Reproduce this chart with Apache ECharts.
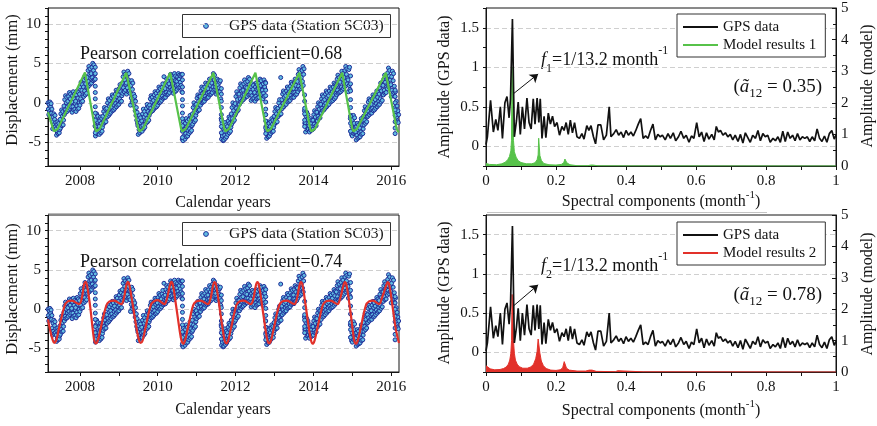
<!DOCTYPE html>
<html>
<head>
<meta charset="utf-8">
<script src="https://cdn.jsdelivr.net/npm/echarts@6/dist/echarts.min.js"></script>
<style>
  html, body { margin: 0; padding: 0; background: #fff; }
  #chart { width: 877px; height: 426px; }
</style>
</head>
<body>
<div id="chart"></div>
<script>
// ---------- GPS displacement, station SC03 (mm), one reading every 0.01 yr from 2007.18 ----------
const gpsStartYear = 2007.18;
const gpsStep = 0.01;
const gpsValues = [
  0.0,
  // 2007.2 - 2007.9
  -0.8,-1.5,-0.2,-1.1,0.1,-1.3,-0.5,-0.1,-1.3,-0.8,  -2.4,-3.3,-1.8,-2.8,-1.4,-3.1,-2.1,-1.6,-3.0,-2.5,
  -3.3,-4.1,-2.8,-3.7,-2.4,-3.9,-3.0,-2.6,-3.8,-3.4,  -2.1,-3.2,-1.4,-2.6,-0.9,-2.9,-1.7,-1.1,-2.8,-2.2,
  -0.4,-1.5,0.4,-0.9,0.9,-1.2,0.0,0.7,-1.1,-0.5,      0.2,-0.9,0.8,-0.3,1.3,-0.7,0.5,1.1,-0.5,0.0,
  0.1,-1.2,0.9,-0.5,1.4,-0.9,0.5,1.1,-0.8,-0.1,       0.2,-1.1,1.0,-0.4,1.5,-0.8,0.6,1.3,-0.7,0.0,
  // 2008
  1.1,-0.3,2.0,0.5,2.6,0.1,1.6,2.3,0.2,1.0,           2.0,0.8,2.9,1.5,3.4,1.0,2.4,3.1,1.2,1.9,
  3.2,2.0,4.1,2.7,4.6,2.2,3.6,4.3,2.4,3.1,            3.7,2.5,4.5,3.2,5.0,2.8,4.1,4.8,2.9,3.6,
  -2.9,-4.2,-2.0,-3.5,-1.4,-3.9,-2.4,-1.7,-3.7,-3.0,  -3.0,-4.0,-2.3,-3.4,-1.8,-3.8,-2.6,-2.0,-3.6,-3.1,
  -1.7,-2.7,-1.1,-2.2,-0.6,-2.5,-1.4,-0.8,-2.4,-1.8,  -0.7,-1.8,0.0,-1.2,0.5,-1.6,-0.4,0.3,-1.4,-0.8,
  -0.2,-1.2,0.6,-0.6,1.0,-1.0,0.2,0.8,-0.9,-0.3,      0.4,-0.7,1.1,-0.1,1.6,-0.5,0.8,1.4,-0.3,0.3,
  // 2009
  1.0,-0.2,1.8,0.5,2.3,0.1,1.4,2.1,0.2,0.9,           2.5,1.2,3.3,1.9,3.9,1.4,2.9,3.6,1.6,2.3,
  2.5,1.1,3.4,1.9,4.0,1.4,2.9,3.7,1.5,2.3,            1.2,-0.3,2.2,0.6,2.8,0.1,1.7,2.5,0.3,1.1,
  0.6,-0.4,0.8,-1.0,0.2,-1.6,-0.6,-2.2,-1.2,-2.6,     -2.9,-4.0,-2.1,-3.4,-1.6,-3.8,-2.5,-1.9,-3.6,-3.0,
  -2.3,-3.6,-1.4,-2.9,-0.8,-3.3,-1.8,-1.1,-3.1,-2.4,  -1.5,-2.6,-0.7,-2.0,-0.2,-2.4,-1.1,-0.5,-2.2,-1.6,
  -0.3,-1.3,0.5,-0.7,0.9,-1.1,0.1,0.7,-1.0,-0.4,      0.3,-0.8,1.0,-0.2,1.4,-0.6,0.6,1.2,-0.5,0.2,
  // 2010
  0.8,-0.3,1.5,0.3,2.0,0.0,1.2,1.8,0.1,0.7,           1.3,0.3,1.95,0.85,2.4,0.55,1.65,3.3,0.65,1.2,
  1.8,0.7,2.5,1.3,3.0,1.0,2.2,2.8,1.1,1.7,            2.4,1.3,3.1,1.9,3.6,1.6,2.8,3.4,1.7,2.3,
  2.4,1.2,3.2,1.8,3.7,1.4,2.8,3.4,1.5,2.2,            2.7,1.7,3.3,2.3,3.7,1.9,3.0,3.5,2.0,2.6,
  3.4,2.2,3.6,1.4,-4.6,-3.0,-4.8,-2.4,-4.2,-3.6,      -3.4,-4.6,-2.6,-3.9,-2.0,-4.3,-3.0,-2.3,-4.2,-3.5,
  -2.8,-3.9,-2.1,-3.3,-1.6,-3.7,-2.5,-1.9,-3.5,-2.9,  -1.4,-2.7,-0.6,-2.0,0.0,-2.4,-1.0,-0.3,-2.2,-1.6,
  // 2011
  -0.2,-1.2,0.6,-0.6,1.0,-1.0,0.2,0.8,-0.9,-0.3,      0.8,-0.3,1.5,0.3,2.0,0.0,1.2,1.8,0.1,0.7,
  1.3,0.2,2.0,0.8,2.5,0.5,1.7,2.3,0.6,1.2,            1.8,0.7,2.5,1.3,3.0,1.0,2.2,2.8,1.1,1.7,
  2.5,1.3,3.2,2.0,3.7,1.6,2.9,3.5,1.7,2.4,            2.0,1.1,2.6,1.6,3.0,1.3,2.3,2.8,1.4,1.9,
  2.6,1.4,2.8,0.5,-2.0,-4.6,-2.6,-4.2,-3.2,-4.8,      -3.7,-4.7,-3.0,-4.1,-2.5,-4.5,-3.3,-2.8,-4.3,-3.8,
  -3.0,-4.0,-2.3,-3.4,-1.8,-3.8,-2.6,-2.0,-3.6,-3.1,  -1.4,-2.7,-0.6,-2.0,0.0,-2.4,-1.0,-0.3,-2.2,-1.6,
  // 2012
  -0.1,-1.4,0.8,-0.7,1.4,-1.1,0.4,1.1,-0.9,-0.2,      1.1,-0.2,1.9,0.5,2.4,0.1,1.5,2.2,0.3,0.9,
  1.6,0.4,2.4,1.0,2.9,0.6,2.0,2.6,0.8,1.4,            1.9,0.8,2.7,1.4,3.2,1.0,2.3,3.0,1.1,1.8,
  1.3,0.3,2.0,0.9,2.4,0.5,1.7,2.2,0.6,1.2,            1.3,0.2,2.0,0.8,2.5,0.5,1.7,2.3,0.6,1.2,
  1.8,0.7,2.5,1.3,3.0,1.0,2.2,2.8,1.1,1.7,            1.6,0.5,2.4,1.2,2.9,0.8,2.0,2.6,-1.5,-3.0,
  -3.5,-4.5,-2.9,-4.0,-2.4,-4.3,-3.2,-2.6,-4.2,-3.6,  -3.0,-3.9,-2.4,-3.4,-2.0,-3.7,-2.7,-2.2,-3.6,-3.1,
  // 2013
  -1.7,-2.7,-1.1,-2.2,-0.6,-2.5,-1.4,-0.8,-2.4,-1.8,  -0.7,-1.7,0.0,-1.1,0.4,-1.5,-0.4,3.2,-1.4,-0.8,
  0.4,-0.7,1.1,-0.1,1.5,-0.5,0.7,1.3,-0.3,0.2,        0.9,-0.2,1.5,0.4,2.0,0.1,1.2,1.8,0.2,0.7,
  1.4,0.3,2.1,0.9,2.6,0.6,1.8,2.4,0.7,1.3,            1.8,0.7,2.5,1.3,3.0,1.0,2.2,2.8,1.1,1.7,
  2.7,1.4,3.6,2.1,4.2,1.7,3.2,3.9,1.8,2.6,            3.2,2.0,4.1,2.7,4.6,2.2,3.6,4.3,-1.0,-2.6,
  -2.5,-3.7,-1.7,-3.0,-1.2,-3.4,-2.1,-1.5,-3.3,-2.6,  -2.9,-3.7,-2.4,-3.3,-2.0,-3.5,-2.6,-2.2,-3.4,-3.0,
  // 2014
  -2.2,-3.3,-1.5,-2.7,-1.0,-3.0,-1.8,-1.2,-2.9,-2.3,  -1.2,-2.3,-0.5,-1.7,0.0,-2.0,-0.8,-0.2,-1.9,-1.3,
  -0.2,-1.3,0.5,-0.7,1.0,-1.0,0.2,0.8,-0.9,-0.3,      0.4,-0.7,1.1,-0.1,1.5,-0.5,0.7,1.3,-0.3,0.2,
  0.9,-0.2,1.5,0.4,2.0,0.1,1.2,1.8,0.2,0.7,           1.4,0.3,2.0,0.9,2.5,0.5,1.7,2.3,0.7,1.2,
  2.2,1.0,3.0,1.6,3.5,1.2,2.6,3.2,1.3,2.0,            2.6,1.4,3.4,2.0,4.0,1.6,3.0,3.7,1.8,2.5,
  3.2,2.0,4.1,2.7,4.6,2.2,3.6,4.3,2.4,3.1,            2.9,1.4,4.2,2.2,4.5,1.7,-2.0,-3.6,-1.6,-4.0,
  // 2015
  -3.0,-4.2,-2.1,-3.5,-1.6,-3.9,-2.6,-1.9,-3.8,-3.1,  -3.7,-4.7,-3.0,-4.1,-2.6,-4.5,-3.4,-2.8,-4.4,-3.8,
  -3.2,-4.3,-2.5,-3.7,-2.0,-4.0,-2.8,-2.2,-3.9,-3.3,  -1.7,-2.8,-1.0,-2.2,-0.5,-2.6,-1.3,-0.8,-2.4,-1.8,
  -0.7,-1.7,0.1,-1.1,0.5,-1.5,-0.3,0.3,-1.3,-0.8,     -0.2,-1.3,0.5,-0.7,1.0,-1.0,0.2,0.8,-0.9,-0.3,
  0.4,-0.7,1.1,-0.1,1.5,-0.5,0.7,1.3,-0.3,0.2,        1.1,-0.2,1.9,0.5,2.5,0.1,1.5,2.2,0.3,1.0,
  2.2,1.0,3.0,1.6,3.5,1.2,2.6,3.2,1.3,2.0,            3.0,1.8,3.8,2.4,4.4,2.0,3.4,4.1,2.2,2.9,
  // 2016.0 - 2016.2
  2.3,0.8,3.3,1.6,4.0,1.1,2.8,3.7,1.3,2.1,            0.8,-0.6,1.4,-1.2,0.2,-1.8,-0.4,-2.3,-1.0,-2.5,
  -1.5
];
// readings logged during the fast seasonal drops
const gpsFastYears = [2008.395, 2010.635, 2011.635, 2012.775, 2013.775, 2014.955, 2016.10];
const gpsFastValues = [
  [4.5, 3.7, 3.0, 2.1, 1.3, 0.5, -0.5, -1.3, -2.2, -3.0, -3.8],
  [3.6, 2.9, 2.0, 1.3, 0.4, -0.4, -1.3, -2.0, -2.9, -3.6, -4.4],
  [1.8, 1.1, 0.2, -0.6, -1.5, -2.2, -3.0, -3.8],
  [2.5, 1.6, 0.9, 0.1, -0.8, -1.5, -2.3, -3.2, -3.9],
  [1.0, 0.2, -0.7, -1.4, -2.2, -3.0],
  [3.4, 2.4, 1.5, 0.4, -0.6, -1.7, -2.6, -3.6],
  [1.6, 0.8, 0.0, -0.9, -1.6, -2.4, -3.2, -3.9]
];

// ---------- model displacement curves [year, mm] ----------
const model1Curve = [
  [2007.18,-1.2],[2007.31,-3.3],[2007.34,-3.6],[2007.36,-3.7],[2007.39,-3.6],[2007.43,-3.3],[2008.13,3.85],
  [2008.39,-3.3],[2008.42,-3.6],[2008.44,-3.7],[2008.47,-3.6],[2008.51,-3.3],[2009.19,3.8],
  [2009.50,-3.3],[2009.53,-3.6],[2009.55,-3.7],[2009.58,-3.6],[2009.62,-3.3],[2010.32,3.8],
  [2010.60,-3.3],[2010.63,-3.6],[2010.65,-3.7],[2010.68,-3.6],[2010.72,-3.3],[2011.43,3.8],
  [2011.71,-3.3],[2011.74,-3.6],[2011.76,-3.7],[2011.79,-3.6],[2011.83,-3.3],[2012.51,3.8],
  [2012.79,-3.3],[2012.82,-3.6],[2012.84,-3.7],[2012.87,-3.6],[2012.91,-3.3],[2013.64,3.8],
  [2013.92,-3.3],[2013.95,-3.6],[2013.97,-3.7],[2014.00,-3.6],[2014.04,-3.3],[2014.74,3.8],
  [2015.00,-3.3],[2015.03,-3.6],[2015.05,-3.7],[2015.08,-3.6],[2015.12,-3.3],[2015.86,3.8],
  [2016.14,-3.3],[2016.17,-3.6],[2016.20,-3.7]
];
const model2Curve = [
  [2007.18,-1.3],[2007.24,-2.8],[2007.30,-3.9],
  [2007.34,-4.3],[2007.39,-4.0],[2007.46,-2.5],[2007.61,0.5],[2007.69,1.0],[2007.79,1.1],[2007.98,0.65],[2008.05,1.4],[2008.10,3.0],[2008.14,3.5],[2008.18,3.1],[2008.26,0.5],[2008.33,-2.6],[2008.37,-4.0],
  [2008.41,-4.35],[2008.46,-4.0],[2008.53,-2.5],[2008.68,0.5],[2008.76,1.0],[2008.88,1.1],[2009.06,0.65],[2009.13,1.4],[2009.19,3.0],[2009.23,3.5],[2009.27,3.1],[2009.36,0.5],[2009.46,-2.6],[2009.52,-4.0],
  [2009.56,-4.3],[2009.61,-4.0],[2009.68,-2.5],[2009.82,0.5],[2009.90,1.0],[2010.00,1.15],[2010.17,0.65],[2010.24,1.4],[2010.31,3.0],[2010.35,3.5],[2010.39,3.1],[2010.47,0.5],[2010.56,-2.6],[2010.61,-4.0],
  [2010.65,-4.4],[2010.70,-4.0],[2010.77,-2.5],[2010.91,0.5],[2010.99,1.0],[2011.10,1.1],[2011.29,0.65],[2011.36,1.4],[2011.42,3.0],[2011.46,3.45],[2011.50,3.1],[2011.58,0.5],[2011.67,-2.6],[2011.72,-4.0],
  [2011.76,-4.35],[2011.81,-4.0],[2011.88,-2.5],[2012.02,0.5],[2012.10,1.0],[2012.21,1.1],[2012.39,0.65],[2012.46,1.4],[2012.52,3.0],[2012.56,3.45],[2012.60,3.1],[2012.68,0.5],[2012.77,-2.6],[2012.82,-4.0],
  [2012.86,-4.35],[2012.91,-4.0],[2012.98,-2.5],[2013.12,0.5],[2013.20,1.0],[2013.32,1.1],[2013.51,0.65],[2013.58,1.4],[2013.64,3.0],[2013.68,3.45],[2013.72,3.1],[2013.80,0.5],[2013.89,-2.6],[2013.94,-4.0],
  [2013.98,-4.4],[2014.03,-4.0],[2014.10,-2.5],[2014.24,0.5],[2014.32,1.0],[2014.44,1.1],[2014.62,0.65],[2014.69,1.4],[2014.77,3.0],[2014.81,3.45],[2014.85,3.1],[2014.93,0.5],[2015.01,-2.6],[2015.05,-4.0],
  [2015.09,-4.4],[2015.14,-4.0],[2015.21,-2.5],[2015.35,0.5],[2015.43,1.0],[2015.53,1.1],[2015.69,0.65],[2015.76,1.4],[2015.87,3.0],[2015.91,3.45],[2015.95,3.1],[2016.03,0.5],[2016.12,-2.6],[2016.20,-4.3]
];

// ---------- amplitude spectra [frequency (1/month), amplitude] ----------
const gpsSpectrum = [
  [0,0.02],[0.004,0.12],[0.013,0.58],[0.021,0.18],[0.028,0.34],[0.034,0.2],[0.041,0.5],[0.047,0.1],[0.054,0.55],[0.06,0.63],
  [0.066,0.36],[0.07,0.6],[0.0755,1.61],[0.081,0.12],[0.087,0.32],[0.092,0.56],[0.098,0.15],[0.104,0.5],[0.11,0.22],[0.117,0.61],
  [0.123,0.3],[0.129,0.22],[0.135,0.6],[0.14,0.28],[0.146,0.61],[0.151,0.3],[0.155,0.6],[0.16,0.1],[0.166,0.38],[0.171,0.11],
  [0.178,0.42],[0.184,0.28],[0.19,0.38],[0.196,0.25],[0.203,0.3],[0.21,0.14],[0.217,0.25],[0.223,0.2],[0.229,0.3],[0.235,0.15],
  [0.241,0.33],[0.247,0.17],[0.253,0.3],[0.26,0.12],[0.267,0.1],[0.274,0.16],[0.28,0.09],[0.288,0.26],[0.294,0.2],[0.3,0.26],
  [0.307,0.12],[0.313,0.03],[0.32,0.27],[0.328,0.27],[0.336,0.08],[0.344,0.14],[0.352,0.5],[0.357,0.12],[0.365,0.16],[0.372,0.21],
  [0.379,0.14],[0.386,0.18],[0.393,0.11],[0.4,0.2],[0.407,0.14],[0.414,0.18],[0.421,0.13],[0.428,0.2],[0.435,0.28],[0.442,0.35],
  [0.449,0.1],[0.456,0.13],[0.463,0.1],[0.47,0.2],[0.477,0.28],[0.484,0.08],[0.491,0.15],[0.498,0.12],
  [0.504,0.14],[0.512,0.08],[0.52,0.16],[0.527,0.1],[0.535,0.17],[0.542,0.07],[0.55,0.12],[0.557,0.19],[0.565,0.1],[0.572,0.14],
  [0.58,0.05],[0.587,0.13],[0.594,0.1],[0.602,0.3],[0.609,0.12],[0.616,0.18],[0.623,0.06],[0.63,0.17],[0.637,0.09],[0.645,0.15],
  [0.652,0.08],[0.658,0.25],[0.664,0.18],[0.67,0.2],[0.677,0.14],[0.684,0.17],[0.691,0.12],[0.698,0.15],[0.705,0.08],[0.712,0.14],
  [0.72,0.06],[0.727,0.15],[0.734,0.04],[0.741,0.17],[0.748,0.11],[0.755,0.05],[0.762,0.14],[0.77,0.1],[0.777,0.2],[0.784,0.07],
  [0.791,0.16],[0.798,0.12],[0.805,0.14],[0.812,0.05],[0.82,0.1],[0.827,0.07],[0.834,0.12],[0.841,0.05],[0.848,0.19],[0.855,0.06],
  [0.862,0.18],[0.869,0.1],[0.876,0.14],[0.883,0.07],[0.89,0.16],[0.897,0.08],[0.904,0.12],[0.911,0.1],[0.918,0.12],[0.925,0.06],
  [0.932,0.12],[0.939,0.07],[0.946,0.22],[0.953,0.1],[0.96,0.06],[0.967,0.13],[0.974,0.05],[0.981,0.16],[0.988,0.2],[0.995,0.09],[1,0.14]
];
const model1Spectrum = [
  [0,0.08],[0.01,0.05],[0.03,0.04],[0.045,0.07],[0.055,0.12],[0.062,0.2],[0.067,0.3],[0.071,0.48],[0.0728,0.8],
  [0.0742,3.13],[0.0772,3.13],[0.0786,0.8],[0.081,0.45],[0.086,0.28],[0.092,0.17],[0.1,0.11],[0.115,0.07],[0.13,0.07],
  [0.14,0.1],[0.146,0.2],[0.149,0.35],[0.1505,0.88],[0.1525,0.88],[0.154,0.33],[0.158,0.18],[0.165,0.08],[0.18,0.04],
  [0.2,0.03],[0.215,0.05],[0.222,0.1],[0.2255,0.22],[0.2275,0.22],[0.231,0.1],[0.24,0.04],[0.26,0.01],[0.29,0.01],
  [0.3,0.03],[0.302,0.07],[0.304,0.07],[0.306,0.03],[0.32,0.005],[0.4,0.003],[1,0]
];
const model2Spectrum = [
  [0,0.2],[0.005,0.14],[0.012,0.1],[0.025,0.07],[0.04,0.08],[0.05,0.11],[0.058,0.16],[0.064,0.25],[0.068,0.38],[0.071,0.6],
  [0.073,1.0],[0.0745,2.47],[0.077,2.47],[0.0785,1.0],[0.081,0.6],[0.084,0.38],[0.089,0.25],[0.095,0.17],[0.105,0.12],[0.118,0.12],
  [0.128,0.16],[0.136,0.25],[0.142,0.42],[0.146,0.65],[0.149,1.05],[0.1515,1.0],[0.154,0.6],[0.158,0.35],[0.164,0.2],[0.172,0.11],
  [0.185,0.06],[0.2,0.05],[0.212,0.07],[0.219,0.13],[0.2235,0.33],[0.2265,0.33],[0.23,0.12],[0.238,0.06],[0.26,0.03],[0.285,0.03],
  [0.295,0.06],[0.299,0.12],[0.303,0.06],[0.315,0.02],[0.37,0.01],[0.376,0.04],[0.38,0.01],[0.45,0.005],[1,0]
];

// ---------- tick labels ----------
const yearTicks = [2008, 2009, 2010, 2011, 2012, 2013, 2014, 2015, 2016];
const yearLabels = [2008, 2010, 2012, 2014, 2016];

// ---------- styling ----------
const FONT = "'Liberation Serif', 'Times New Roman', serif";
const INK = '#141414';
const GRID_DASH = '#cfcfcf';
const NONE = 'rgba(0,0,0,0)';
const GREEN = '#57c24a';
const RED = '#e2312a';
const DOT_FILL = '#62bde2';
const DOT_EDGE = '#1f2e98';

function gpsPoints() {
  const pts = gpsValues.map((v, i) => [+(gpsStartYear + i * gpsStep).toFixed(3), v]);
  gpsFastYears.forEach((yr, k) => gpsFastValues[k].forEach(v => pts.push([yr, v])));
  return pts;
}

const axisLine = { show: true, onZero: false, lineStyle: { color: INK, width: 1 } };
const labelStyle = { color: INK, fontFamily: FONT, fontSize: 15 };

function yearAxis(gi) {
  return {
    type: 'value', gridIndex: gi, min: 2007.18, max: 2016.2,
    axisLine,
    axisTick: { show: true, length: 4, customValues: yearTicks, lineStyle: { color: INK } },
    axisLabel: Object.assign({ customValues: yearLabels, margin: 8, formatter: v => String(v) }, labelStyle),
    splitLine: { show: false }
  };
}
function freqAxis(gi) {
  return {
    type: 'value', gridIndex: gi, min: 0, max: 1, interval: 0.2,
    axisLine,
    axisTick: { show: true, length: 4, lineStyle: { color: INK } },
    minorTick: { show: true, splitNumber: 2, length: 4, lineStyle: { color: INK } },
    axisLabel: Object.assign({ margin: 8, formatter: v => String(+v.toFixed(1)) }, labelStyle),
    splitLine: { show: false }
  };
}
function dispAxis(gi) {
  return {
    type: 'value', gridIndex: gi, min: -8, max: 12, interval: 1,
    axisLine,
    axisTick: { show: true, length: 3, lineStyle: { color: INK } },
    axisLabel: Object.assign({ margin: 7, formatter: v => (v % 5 === 0 ? String(v) : '') }, labelStyle),
    splitLine: { show: true, lineStyle: { color: [NONE, NONE, NONE, GRID_DASH, NONE], type: [5, 3], width: 1 } }
  };
}
function ampGpsAxis(gi) {
  return {
    type: 'value', gridIndex: gi, min: -0.25, max: 1.75, interval: 0.25, position: 'left',
    axisLine,
    axisTick: { show: true, length: 3, lineStyle: { color: INK } },
    axisLabel: Object.assign({ margin: 7, formatter: v => (v >= 0 && Math.abs(v * 2 - Math.round(v * 2)) < 1e-6 ? String(+v.toFixed(1)) : '') }, labelStyle),
    splitLine: { show: true, lineStyle: { color: [NONE, GRID_DASH], type: [5, 3], width: 1 } }
  };
}
function ampModelAxis(gi) {
  return {
    type: 'value', gridIndex: gi, min: 0, max: 5, interval: 1, position: 'right',
    axisLine,
    axisTick: { show: true, inside: true, length: 4, lineStyle: { color: INK } },
    minorTick: { show: true, splitNumber: 2, length: 3, lineStyle: { color: INK } },
    axisLabel: Object.assign({ margin: 5 }, labelStyle),
    splitLine: { show: false }
  };
}

function gridBox(left, top, width, height) {
  return { left, top, width, height, show: true, borderColor: INK, borderWidth: 1,
           backgroundColor: 'rgba(0,0,0,0)', containLabel: false, outerBoundsMode: 'none' };
}

function gpsScatter(xi, yi) {
  return {
    type: 'scatter', name: 'GPS data (Station SC03)', xAxisIndex: xi, yAxisIndex: yi,
    data: gpsPoints(), symbol: 'circle', symbolSize: 4, z: 2, large: false, progressive: 0,
    itemStyle: { color: DOT_FILL, borderColor: DOT_EDGE, borderWidth: 1, opacity: 1 },
    emphasis: { disabled: true }, silent: true
  };
}
function modelLine(name, xi, yi, data, color, smooth) {
  return {
    type: 'line', name, xAxisIndex: xi, yAxisIndex: yi, data, color, z: 4,
    showSymbol: false, symbol: 'none', smooth, lineStyle: { color, width: 2.2 },
    emphasis: { disabled: true }, silent: true
  };
}
function gpsSpecLine(xi, yi, arrowFrom, arrowTo) {
  return {
    type: 'line', name: 'GPS data', xAxisIndex: xi, yAxisIndex: yi, data: gpsSpectrum,
    color: '#111', z: 4, showSymbol: false, symbol: 'none', lineStyle: { color: '#111', width: 1.7 },
    emphasis: { disabled: true }, silent: true,
    markLine: {
      silent: true, symbol: ['none', 'arrow'], symbolSize: 8, animation: false,
      lineStyle: { color: '#111', width: 1, type: 'solid' }, label: { show: false },
      emphasis: { disabled: true },
      data: [[{ coord: arrowFrom }, { coord: arrowTo }]]
    }
  };
}
function modelSpecArea(name, xi, yi, data, color) {
  return {
    type: 'line', name, xAxisIndex: xi, yAxisIndex: yi, data, color, z: 3,
    showSymbol: false, symbol: 'none', lineStyle: { color, width: 1 },
    areaStyle: { color, opacity: 1 }, emphasis: { disabled: true }, silent: true
  };
}

function legendBox(left, top, names) {
  return {
    left, top, orient: 'vertical', selectedMode: false,
    backgroundColor: '#fff', borderColor: '#333', borderWidth: 1,
    itemGap: 0, itemWidth: 35, itemHeight: 2, padding: [4, 9, 3, 6],
    textStyle: { color: INK, fontFamily: FONT, fontSize: 15, lineHeight: 18 },
    data: names
  };
}
// boxed key for the GPS scatter (marker + caption)
function scatterKey(top) {
  return {
    type: 'group', silent: true,
    children: [
      { type: 'rect', shape: { x: 182.5, y: top + 0.5, width: 208, height: 23 },
        style: { fill: '#fff', stroke: '#333', lineWidth: 1 } },
      { type: 'circle', shape: { cx: 206, cy: top + 12, r: 2.4 },
        style: { fill: DOT_FILL, stroke: DOT_EDGE, lineWidth: 1 } },
      { type: 'text', x: 229, y: top + 12,
        style: { text: 'GPS data (Station SC03)', fill: INK, font: '15.5px ' + FONT,
                 verticalAlign: 'middle', textVerticalAlign: 'middle' } }
    ]
  };
}

function label(text, x, y, size, vertical) {
  return {
    type: 'text', x, y, rotation: vertical ? Math.PI / 2 : 0, silent: true,
    style: { text, fill: INK, font: size + 'px ' + FONT, align: 'center', verticalAlign: 'middle',
             textAlign: 'center', textVerticalAlign: 'middle' }
  };
}
function richLabel(text, x, y, align, rich) {
  return {
    type: 'text', x, y, silent: true,
    style: { text, fill: INK, fontFamily: FONT, align, verticalAlign: 'middle',
             textAlign: align, textVerticalAlign: 'middle', rich }
  };
}
const spectralRich = {
  m: { fontFamily: FONT, fontSize: 16, lineHeight: 24, fill: INK },
  p: { fontFamily: FONT, fontSize: 11, verticalAlign: 'top', fill: INK }
};
const freqNoteRich = {
  i: { fontFamily: FONT, fontSize: 18, fontStyle: 'italic', lineHeight: 30, fill: INK },
  s: { fontFamily: FONT, fontSize: 12, verticalAlign: 'bottom', fill: INK },
  m: { fontFamily: FONT, fontSize: 18, lineHeight: 30, fill: INK },
  p: { fontFamily: FONT, fontSize: 12, verticalAlign: 'top', fill: INK }
};
const coefRich = {
  m: { fontFamily: FONT, fontSize: 19, lineHeight: 26, fill: INK },
  i: { fontFamily: FONT, fontSize: 19, fontStyle: 'italic', lineHeight: 26, fill: INK },
  s: { fontFamily: FONT, fontSize: 13, verticalAlign: 'bottom', fill: INK }
};

const option = {
  animation: false,
  backgroundColor: '#fff',
  textStyle: { fontFamily: FONT },
  grid: [
    gridBox(48, 8, 351, 158),
    gridBox(48, 215, 351, 157),
    gridBox(486, 8, 350, 158),
    gridBox(486, 215, 350, 157)
  ],
  xAxis: [yearAxis(0), yearAxis(1), freqAxis(2), freqAxis(3)],
  yAxis: [dispAxis(0), dispAxis(1), ampGpsAxis(2), ampModelAxis(2), ampGpsAxis(3), ampModelAxis(3)],
  legend: [
    legendBox(677, 14, [{ name: 'GPS data', icon: 'rect' }, { name: 'Model results 1', icon: 'rect' }]),
    legendBox(677, 222, [{ name: 'GPS data', icon: 'rect' }, { name: 'Model results 2', icon: 'rect' }])
  ],
  series: [
    gpsScatter(0, 0),
    modelLine('Model 1 displacement', 0, 0, model1Curve, GREEN, false),
    gpsScatter(1, 1),
    modelLine('Model 2 displacement', 1, 1, model2Curve, RED, 0.35),
    gpsSpecLine(2, 2, [0.077, 0.66], [0.149, 0.915]),
    modelSpecArea('Model results 1', 2, 3, model1Spectrum, GREEN),
    gpsSpecLine(3, 4, [0.078, 0.59], [0.149, 0.86]),
    modelSpecArea('Model results 2', 3, 5, model2Spectrum, RED)
  ],
  graphic: [
    scatterKey(14),
    scatterKey(222),
    label('Displacement (mm)', 13, 80, 16.5, true),
    label('Displacement (mm)', 13, 289, 16.5, true),
    label('Calendar years', 223, 203, 16, false),
    label('Calendar years', 223, 410, 16, false),
    label('Amplitude (GPS data)', 445, 87, 16, true),
    label('Amplitude (GPS data)', 445, 293, 16, true),
    label('Amplitude (model)', 868, 86, 16, true),
    label('Amplitude (model)', 868, 294, 16, true),
    richLabel('{m|Spectral components (month}{p|-1}{m|)}', 661, 202, 'center', spectralRich),
    richLabel('{m|Spectral components (month}{p|-1}{m|)}', 661, 411, 'center', spectralRich),
    { type: 'text', x: 80, y: 54, silent: true,
      style: { text: 'Pearson correlation coefficient=0.68', fill: INK, font: '18px ' + FONT, verticalAlign: 'middle', textVerticalAlign: 'middle' } },
    { type: 'text', x: 80, y: 262, silent: true,
      style: { text: 'Pearson correlation coefficient=0.74', fill: INK, font: '18px ' + FONT, verticalAlign: 'middle', textVerticalAlign: 'middle' } },
    richLabel('{i|f}{s|1}{m|=1/13.2 month}{p|-1}', 541, 60, 'left', freqNoteRich),
    richLabel('{i|f}{s|2}{m|=1/13.2 month}{p|-1}', 541, 266, 'left', freqNoteRich),
    richLabel('{m|(}{i|ã}{s|12}{m| = 0.35)}', 822, 87, 'right', coefRich),
    richLabel('{m|(}{i|ã}{s|12}{m| = 0.78)}', 822, 295, 'right', coefRich),
    { type: 'line', silent: true, shape: { x1: 48, y1: 213.5, x2: 399, y2: 213.5 }, style: { stroke: '#b9b9b9', lineWidth: 1 } },
    { type: 'line', silent: true, shape: { x1: 487, y1: 212.5, x2: 767, y2: 212.5 }, style: { stroke: '#c4c4c4', lineWidth: 1 } }
  ]
};

const chart = echarts.init(document.getElementById('chart'), null, { renderer: 'canvas' });
chart.setOption(option);
</script>
</body>
</html>
